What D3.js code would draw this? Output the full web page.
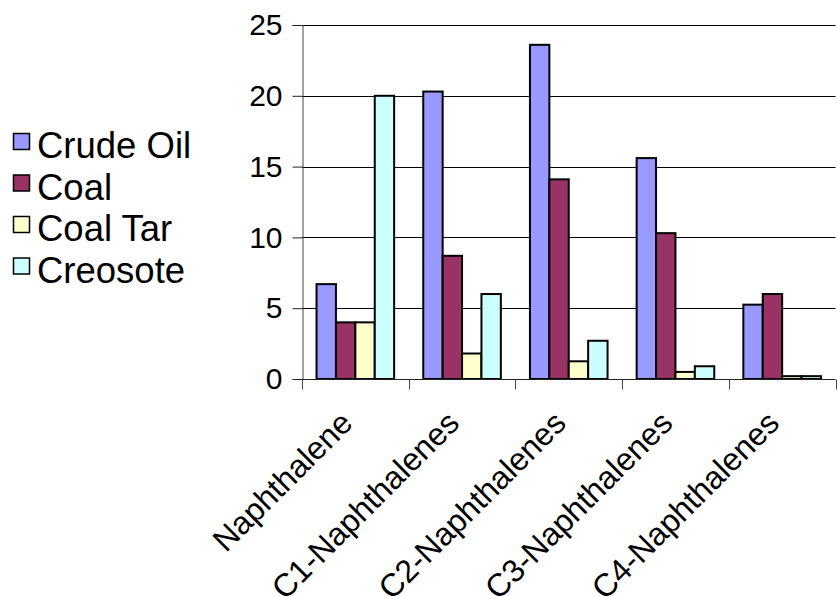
<!DOCTYPE html>
<html><head><meta charset="utf-8">
<script src="https://cdn.jsdelivr.net/npm/d3@7"></script>
<style>body{margin:0;background:#fff}svg{display:block}text{font-family:"Liberation Sans",Arial,sans-serif;fill:#000}</style>
</head><body><div id="chart"></div>
<script>
const categories = ["Naphthalene","C1-Naphthalenes","C2-Naphthalenes","C3-Naphthalenes","C4-Naphthalenes"];
const seriesNames = ["Crude Oil","Coal","Coal Tar","Creosote"];
const crudeOil = [6.7, 20.3, 23.6, 15.6, 5.25];
const coal = [4.0, 8.7, 14.1, 10.3, 6.0];
const coalTar = [4.0, 1.8, 1.25, 0.5, 0.2];
const creosote = [20.0, 6.0, 2.7, 0.9, 0.2];
const yTicks = [0, 5, 10, 15, 20, 25];
const colors = ["#9999FF","#993366","#FFFFCC","#CCFFFF"];
const seriesValues = [crudeOil, coal, coalTar, creosote];

(function () {
const W = 837, H = 596;
const pLeft = 302, pRight = 835.5, pTop = 25, pBottom = 379;
const svg = d3.select("#chart").append("svg").attr("width", W).attr("height", H);

const x0 = d3.scaleBand().domain(categories).range([pLeft, pRight]).paddingInner(0).paddingOuter(0);
const barW = x0.bandwidth() / 5.5;
const x1 = d3.scaleBand().domain(seriesNames).range([barW * 0.75, barW * 4.75]).padding(0);
const y = d3.scaleLinear().domain([0, 25]).range([pBottom, pTop]);

// gridlines
svg.append("g").selectAll("line").data(yTicks.filter(d => d > 0)).join("line")
  .attr("x1", pLeft).attr("x2", pRight)
  .attr("y1", d => Math.round(y(d)) + 0.5).attr("y2", d => Math.round(y(d)) + 0.5)
  .attr("stroke", "#000").attr("stroke-width", 1);

// y axis
const yAxis = svg.append("g").attr("transform", `translate(${pLeft + 0.5},0)`)
  .call(d3.axisLeft(y).tickValues(yTicks).tickSize(10).tickPadding(10));
yAxis.selectAll("path").attr("stroke", "#444");
yAxis.selectAll("line").attr("stroke", "#222");
yAxis.selectAll("text").style("font-size", "30px").attr("font-family", null);

// bars
const groups = svg.append("g").selectAll("g").data(categories).join("g")
  .attr("transform", d => `translate(${x0(d)},0)`);
groups.selectAll("rect").data((c, i) => seriesNames.map((s, j) => ({s, v: seriesValues[j][i], j})))
  .join("rect")
  .attr("x", d => x1(d.s)).attr("width", x1.bandwidth())
  .attr("y", d => y(d.v)).attr("height", d => y(0) - y(d.v))
  .attr("fill", d => colors[d.j]).attr("stroke", "#000").attr("stroke-width", 2);

// x axis
const xAxis = svg.append("g").attr("transform", `translate(0,${pBottom + 0.5})`);
xAxis.append("line").attr("x1", pLeft).attr("x2", pRight).attr("stroke", "#222");
const tickPos = categories.map(c => x0(c)).concat([pRight]);
xAxis.selectAll("line.t").data(tickPos).join("line").attr("class", "t")
  .attr("x1", d => Math.round(d) + 0.5).attr("x2", d => Math.round(d) + 0.5)
  .attr("y1", 0).attr("y2", 10).attr("stroke", "#444");
svg.append("g").selectAll("text").data(categories).join("text")
  .attr("transform", d => `translate(${x0(d) + x0.bandwidth() / 2 - 1},${425}) rotate(-45)`)
  .attr("text-anchor", "end").style("font-size", "32px").text(d => d);

// legend
const lg = svg.append("g").selectAll("g").data(seriesNames).join("g")
  .attr("transform", (d, i) => `translate(0,${158 + i * 41.5})`);
lg.append("rect").attr("x", 13.5).attr("y", -24.5).attr("width", 16).attr("height", 16)
  .attr("fill", (d, i) => colors[i]).attr("stroke", "#000").attr("stroke-width", 1.5);
lg.append("text").attr("x", 37).attr("y", 0).style("font-size", "36.5px").text(d => d);
})();
</script></body></html>
